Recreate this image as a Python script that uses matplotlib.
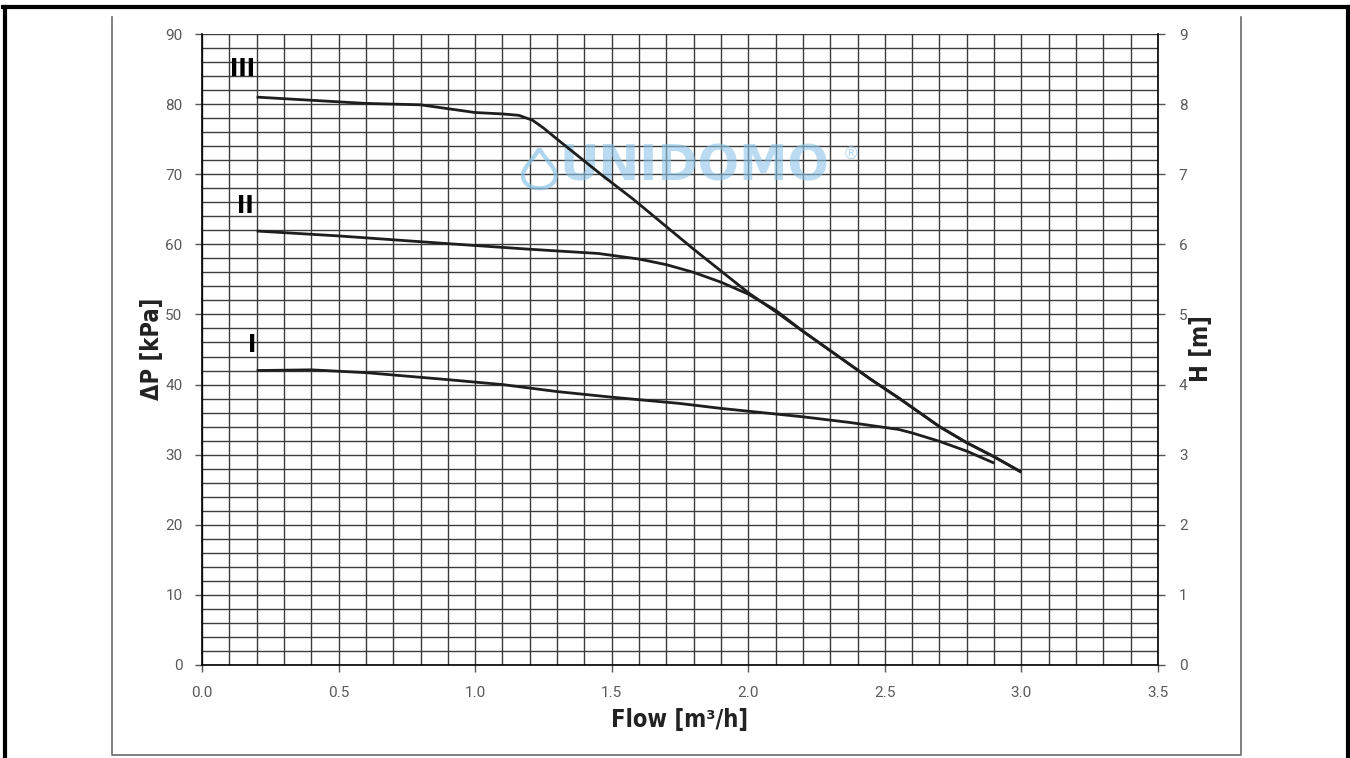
import matplotlib
matplotlib.use("Agg")
import matplotlib.pyplot as plt
from matplotlib import font_manager
from matplotlib.lines import Line2D
from matplotlib.path import Path
from matplotlib.patches import PathPatch
import numpy as np

# ---------------- data ----------------
flow_I = [0.2, 0.4, 0.6, 0.9, 1.1, 1.3, 1.5, 1.75, 1.9, 2.2, 2.37, 2.55, 2.6, 2.7, 2.8, 2.9]
dp_I = [42.0, 42.1, 41.7, 40.7, 40.0, 39.0, 38.2, 37.3, 36.6, 35.4, 34.6, 33.6, 33.1, 31.9, 30.5, 28.8]

flow_II = [0.2, 0.5, 0.9, 1.2, 1.45, 1.6, 1.7, 1.8, 1.9, 2.0, 2.1, 2.2, 2.45, 2.55, 2.7, 2.8, 2.9, 3.0]
dp_II = [61.9, 61.2, 60.1, 59.3, 58.7, 57.9, 57.1, 56.0, 54.6, 52.9, 50.6, 47.6, 40.7, 38.1, 34.0, 31.7, 29.7, 27.5]

flow_III = [0.2, 0.6, 0.8, 1.0, 1.1, 1.16, 1.21, 1.25, 1.3, 1.46, 1.58, 1.8, 1.9, 2.0, 2.1, 2.2, 2.45, 2.55, 2.7, 2.8, 2.9, 3.0]
dp_III = [81.0, 80.1, 79.9, 78.8, 78.6, 78.4, 77.7, 76.6, 75.0, 70.0, 66.4, 59.3, 56.2, 53.1, 50.4, 47.6, 40.7, 38.1, 34.0, 31.7, 29.7, 27.5]

curve_names = ["I", "II", "III"]
xticks = [0.0, 0.5, 1.0, 1.5, 2.0, 2.5, 3.0, 3.5]
yticks_kpa = [0, 10, 20, 30, 40, 50, 60, 70, 80, 90]
yticks_m = [0, 1, 2, 3, 4, 5, 6, 7, 8, 9]

# ---------------- fonts ----------------
def find_file(substr_list):
    for f in font_manager.fontManager.ttflist:
        if all(s in f.fname for s in substr_list):
            return f.fname
    return None

cond_bold = find_file(["DejaVuSansCondensed-Bold"]) or find_file(["Narrow-Bold"])
cond_reg = find_file(["DejaVuSansCondensed.ttf"]) or find_file(["Narrow-Regular"])

def label_fp(size, bold=False):
    fname = cond_bold if bold else cond_reg
    if fname:
        return font_manager.FontProperties(fname=fname, size=size)
    return font_manager.FontProperties(family="DejaVu Sans", size=size * 0.85,
                                       weight="bold" if bold else "normal")

tickfont = "Roboto"

W, H = 1350, 758
fig = plt.figure(figsize=(W / 100, H / 100), dpi=100)

def fx(px):
    return px / W

def fy(py):
    return 1 - py / H

# outer thick border (left, top, right)
fig.add_artist(Line2D([fx(4.5), fx(4.5)], [fy(7), fy(760)], color="black", lw=3, transform=fig.transFigure))
fig.add_artist(Line2D([fx(3), fx(1349)], [fy(7), fy(7)], color="black", lw=3, transform=fig.transFigure))
fig.add_artist(Line2D([fx(1348), fx(1348)], [fy(7), fy(760)], color="black", lw=3, transform=fig.transFigure))
# inner open box (left, bottom, right)
ic = "#6a6a6a"
fig.add_artist(Line2D([fx(111.5), fx(111.5), fx(1241), fx(1241)], [fy(17), fy(754.5), fy(754.5), fy(17)],
                      color=ic, lw=1.2, transform=fig.transFigure))

left, right, bottom, top = 202, 1158, 665, 34
ax = fig.add_axes([fx(left), fy(bottom), fx(right - left), fy(top) - fy(bottom)])
ax.set_xlim(0, 3.5)
ax.set_ylim(0, 90)

gc = "#3c3c3c"
for xv in np.round(np.arange(0.0, 3.51, 0.1), 2):
    ax.axvline(xv, color=gc, lw=1.0, zorder=1)
for yv in range(0, 91, 2):
    ax.axhline(yv, color=gc, lw=1.0, zorder=1)

# watermark
wm = "#8cc4e8"
ax.text(1.31, 71.1, "UNIDOMO", color=wm, alpha=0.6, fontsize=35, fontweight="bold",
        ha="left", va="center", family="DejaVu Sans", zorder=2)
ax.text(2.375, 72.9, "®", color=wm, alpha=0.6, fontsize=12, ha="center", va="center",
        family="DejaVu Sans", zorder=2)
# droplet icon
cx, cy = 1.235, 70.6
verts = [(cx, cy + 3.1), (cx - 0.02, cy + 1.5), (cx - 0.06, cy + 0.4), (cx - 0.06, cy - 0.8),
         (cx - 0.06, cy - 2.0), (cx - 0.03, cy - 2.6), (cx, cy - 2.6),
         (cx + 0.03, cy - 2.6), (cx + 0.06, cy - 2.0), (cx + 0.06, cy - 0.8),
         (cx + 0.06, cy + 0.4), (cx + 0.02, cy + 1.5), (cx, cy + 3.1)]
codes = [Path.MOVETO] + [Path.CURVE4] * 12
ax.add_patch(PathPatch(Path(verts, codes), facecolor="none", edgecolor=wm, alpha=0.7, lw=3, zorder=2))

lc = "#1e1e1e"
ax.plot(flow_I, dp_I, color=lc, lw=2.0, zorder=3, solid_capstyle="butt")
ax.plot(flow_II, dp_II, color=lc, lw=2.0, zorder=3, solid_capstyle="butt")
ax.plot(flow_III, dp_III, color=lc, lw=2.0, zorder=3, solid_capstyle="butt")

label_pos = [(0.185, 45.6), (0.16, 65.4), (0.15, 85.0)]
for name, (lx, ly) in zip(curve_names, label_pos):
    ax.text(lx, ly, name, fontproperties=label_fp(18, bold=True), ha="center", va="center", color="black")

for s in ["top", "right"]:
    ax.spines[s].set_visible(False)
for s in ["left", "bottom"]:
    ax.spines[s].set_color("black")
    ax.spines[s].set_linewidth(1.2)

tcol = "#5a5a5a"
ax.set_xticks(xticks)
ax.set_xticklabels([f"{v:.1f}" for v in xticks])
ax.set_yticks(yticks_kpa)
ax.set_yticklabels([str(v) for v in yticks_kpa])
ax.tick_params(axis="both", direction="out", length=5, width=1, color="#555555", labelcolor=tcol, labelsize=11)
ax.tick_params(axis="x", pad=10)
ax.tick_params(axis="y", pad=9)
for lab in ax.get_xticklabels() + ax.get_yticklabels():
    lab.set_family(tickfont)

ax2 = ax.twinx()
ax2.set_ylim(0, 9)
ax2.set_yticks(yticks_m)
ax2.set_yticklabels([str(v) for v in yticks_m])
for s in ["top", "left", "bottom"]:
    ax2.spines[s].set_visible(False)
ax2.spines["right"].set_color("black")
ax2.spines["right"].set_linewidth(1.2)
ax2.tick_params(axis="y", direction="out", length=5, width=1, color="#555555", labelcolor=tcol, labelsize=11, pad=10)
for lab in ax2.get_yticklabels():
    lab.set_family(tickfont)

fig.text(fx(680), fy(720), "Flow [m³/h]", fontproperties=label_fp(17, bold=True), ha="center", va="center", color="#222222")
fig.text(fx(152), fy(349), "ΔP [kPa]", fontproperties=label_fp(17, bold=True), rotation=90, ha="center", va="center", color="#222222")
fig.text(fx(1201), fy(349), "H [m]", fontproperties=label_fp(17, bold=True), rotation=90, ha="center", va="center", color="#222222")

fig.savefig("out.png", dpi=100, facecolor="white")
